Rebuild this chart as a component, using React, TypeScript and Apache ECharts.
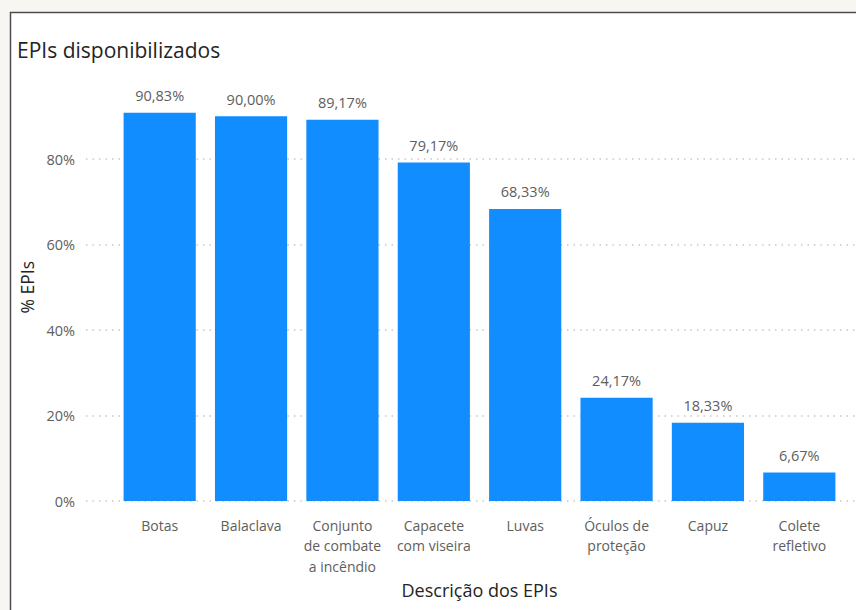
import React, { useEffect, useRef } from "react";
import * as echarts from "echarts";

const categories = [
  "Botas",
  "Balaclava",
  "Conjunto\nde combate\na incêndio",
  "Capacete\ncom viseira",
  "Luvas",
  "Óculos de\nproteção",
  "Capuz",
  "Colete\nrefletivo",
];
const values = [90.83, 90.0, 89.17, 79.17, 68.33, 24.17, 18.33, 6.67];
const yTicks = [0, 20, 40, 60, 80];

const FONT = "'Segoe UI', 'Open Sans', sans-serif";

export default function App() {
  const ref = useRef<HTMLDivElement>(null);
  useEffect(() => {
    if (!ref.current) return;
    const chart = echarts.init(ref.current, null, { renderer: "svg" });
    const top = 73.5;
    const bottom = 109;
    chart.setOption({
      animation: false,
      backgroundColor: "#f7f6f2",
      graphic: [
        {
          type: "rect",
          z: -100,
          silent: true,
          shape: { x: 10.5, y: 12.5, width: 900, height: 700 },
          style: { fill: "#ffffff", stroke: "#4d4d4d", lineWidth: 1.5 },
        },
      ],
      title: {
        text: "EPIs disponibilizados",
        left: 12,
        top: 34,
        textStyle: { fontFamily: FONT, fontSize: 21, fontWeight: "normal", color: "#252423" },
      },
      grid: [
        { left: 86, right: 0, top, bottom },
        { left: 114, right: 11, top, bottom },
      ],
      xAxis: [
        { gridIndex: 0, type: "value", show: false, min: 0, max: 1 },
        {
          gridIndex: 1,
          type: "category",
          data: categories,
          axisLine: { show: false },
          axisTick: { show: false },
          name: "Descrição dos EPIs",
          nameLocation: "middle",
          nameGap: 76,
          nameTextStyle: { fontFamily: FONT, fontSize: 18, color: "#252423" },
          axisLabel: {
            interval: 0,
            margin: 14,
            fontFamily: FONT,
            fontSize: 14,
            lineHeight: 20.5,
            color: "#605e5c",
          },
        },
      ],
      yAxis: [
        {
          gridIndex: 0,
          type: "value",
          min: yTicks[0],
          max: 100,
          interval: 20,
          name: "% EPIs",
          nameLocation: "middle",
          nameRotate: 90,
          nameGap: 48,
          nameTextStyle: { fontFamily: FONT, fontSize: 17.5, color: "#252423" },
          axisLine: { show: false },
          axisTick: { show: false },
          axisLabel: {
            margin: 11,
            fontFamily: FONT,
            fontSize: 14.5,
            color: "#605e5c",
            showMaxLabel: false,
            formatter: (v: number) => (yTicks.includes(v) ? `${v}%` : ""),
          },
          splitLine: {
            show: true,
            showMaxLine: false,
            lineStyle: { color: "#c8c6c4", type: [1.5, 5], width: 1.5 },
          },
        },
        {
          gridIndex: 1,
          type: "value",
          min: 0,
          max: 100,
          interval: 20,
          show: false,
          splitLine: { show: false },
        },
      ],
      series: [
        {
          type: "bar",
          xAxisIndex: 1,
          yAxisIndex: 1,
          data: values,
          barCategoryGap: "21%",
          itemStyle: { color: "#118dff" },
          label: {
            show: true,
            position: "top",
            distance: 9.5,
            fontFamily: FONT,
            fontSize: 14.5,
            color: "#605e5c",
            formatter: (p: any) => p.value.toFixed(2).replace(".", ",") + "%",
          },
        },
      ],
    });
    return () => chart.dispose();
  }, []);
  return (
    <div style={{ position: "fixed", left: 0, top: 0, width: 856, height: 610 }}>
      <div ref={ref} style={{ width: 856, height: 610 }} />
    </div>
  );
}
